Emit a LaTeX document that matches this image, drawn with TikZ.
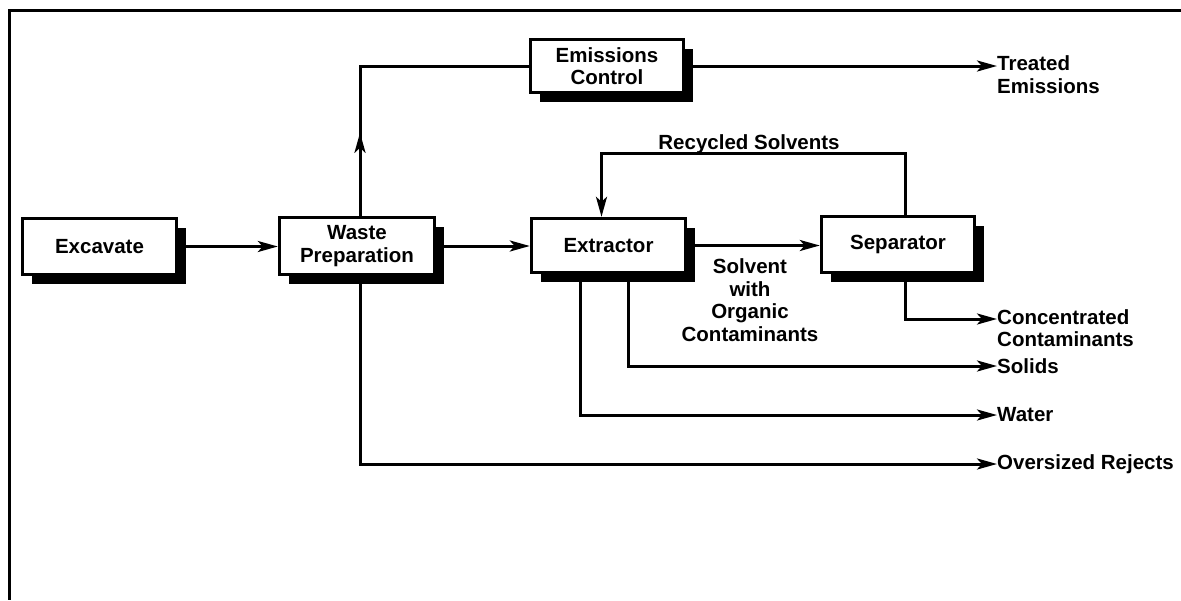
\documentclass[tikz,border=0pt]{standalone}
\usepackage{fontspec}
\setmainfont{Liberation Sans}
\usetikzlibrary{arrows.meta,shadows,decorations.markings,calc}
\begin{document}
\begin{tikzpicture}[x=1pt,y=-1pt,
  font=\bfseries\fontsize{20.5}{22.5}\selectfont,
  box/.style={draw, line width=3.4pt, fill=white, align=center, inner sep=0pt,
    drop shadow={shadow xshift=9pt, shadow yshift=-9pt, fill=black, opacity=1}},
  conn/.style={line width=3pt},
  tip/.style={-{Stealth[length=20pt,width=11pt,inset=5pt]}},
  arr/.style={conn, tip},
  lbl/.style={inner sep=0pt, align=left, anchor=west},
]
\useasboundingbox (0,0) rectangle (1181,600);
\draw[line width=3pt] (1181,10) -- (9,10) -- (9,600);

\node[box, minimum width=154pt, minimum height=56pt] (exc) at (99.5,246.5) {Excavate};
\node[box, minimum width=155pt, minimum height=57pt] (wp) at (357,246) {Waste\\Preparation};
\node[box, minimum width=153pt, minimum height=53pt] (em) at (607,66) {Emissions\\Control};
\node[box, minimum width=154pt, minimum height=54pt] (ex) at (608.5,245.5) {Extractor};
\node[box, minimum width=153pt, minimum height=56pt] (sep) at (898,244.5) {Separator};

\node[lbl] (treat) at (997,74.5) {Treated\\Emissions};
\node[lbl] (conc) at (997,328) {Concentrated\\Contaminants};
\node[lbl] (sol) at (997,366) {Solids};
\node[lbl] (wat) at (997,415) {Water};
\node[lbl] (ovr) at (997,464) {Oversized Rejects};
\node (rec) at (749,144) {Recycled Solvents};
\node[align=center] (swo) at (750,300) {Solvent\\with\\Organic\\Contaminants};

\draw[arr] (exc.east) -- (exc.east -| wp.west);
\draw[arr] (wp.east) -- (wp.east -| ex.west);
\draw[arr] (ex.east) -- (ex.east -| sep.west);
\draw[conn, postaction={decorate}, decoration={markings, mark=at position 83pt with {\arrow{Stealth[length=20pt,width=11pt,inset=5pt]}}}] ([xshift=3pt]wp.north) |- (em.west);
\draw[arr] (em.east) -- (em.east -| treat.west);
\draw[arr] ([xshift=7pt]sep.north) -- ++(0,-61) -| ([xshift=-7pt]ex.north);
\draw[arr] ([xshift=7pt]sep.south) |- ([yshift=9pt]conc.west);
\draw[arr] ([xshift=20pt]ex.south) |- (sol.west);
\draw[arr] ([xshift=-28pt]ex.south) |- (wat.west);
\draw[arr] ([xshift=3pt]wp.south) |- (ovr.west);
\end{tikzpicture}
\end{document}
